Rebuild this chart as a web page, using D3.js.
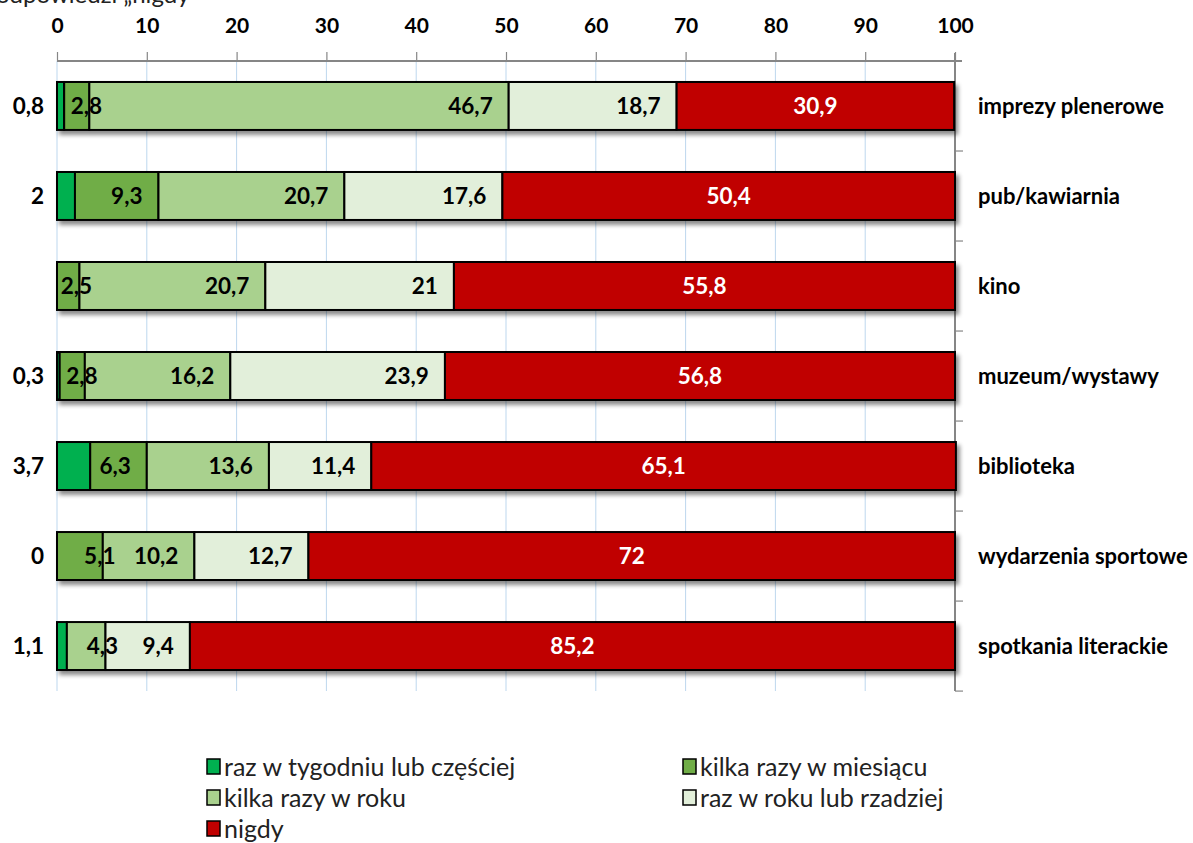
<!DOCTYPE html>
<html>
<head>
<meta charset="utf-8">
<script src="https://cdn.jsdelivr.net/npm/d3@7"></script>
<style>
  html, body { margin: 0; padding: 0; background: #fff; }
  svg { display: block; font-family: Lato, "Open Sans", sans-serif; }
</style>
</head>
<body>
<svg id="chart" width="1193" height="843"></svg>
<script>
// Places visited and how often (% of answers)
const categories = ["imprezy plenerowe", "pub/kawiarnia", "kino", "muzeum/wystawy",
                    "biblioteka", "wydarzenia sportowe", "spotkania literackie"];
const weekly  = [0.8, 2,   null, 0.3,  3.7,  0,    1.1];
const monthly = [2.8, 9.3, 2.5,  2.8,  6.3,  5.1,  null];
const yearly  = [46.7, 20.7, 20.7, 16.2, 13.6, 10.2, 4.3];
const rarely  = [18.7, 17.6, 21,   23.9, 11.4, 12.7, 9.4];
const never   = [30.9, 50.4, 55.8, 56.8, 65.1, 72,   85.2];
const seriesNames = ["raz w tygodniu lub częściej", "kilka razy w miesiącu",
                     "kilka razy w roku", "raz w roku lub rzadziej", "nigdy"];
const xTicks = [0, 10, 20, 30, 40, 50, 60, 70, 80, 90, 100];

const colors = ["#00B050", "#70AD47", "#A9D18E", "#E2EFDA", "#C00000"];
const seriesValues = [weekly, monthly, yearly, rarely, never];

const svg = d3.select("#chart");
const fmt = v => String(v).replace(".", ",");

const x = d3.scaleLinear().domain([0, 100]).range([57, 955]);
const y = d3.scaleBand().domain(categories).range([61, 691]).paddingInner(0.467).paddingOuter(0.233);

// drop shadow for the bars
const defs = svg.append("defs");
const f = defs.append("filter").attr("id", "shadow")
  .attr("x", "-5%").attr("y", "-20%").attr("width", "110%").attr("height", "160%");
f.append("feDropShadow").attr("dx", 3).attr("dy", 4).attr("stdDeviation", 2.2)
  .attr("flood-color", "#000").attr("flood-opacity", 0.45);

// caption line running off the top edge
svg.append("text").attr("x", -4).attr("y", 3)
  .attr("font-size", 24).attr("fill", "#222").text("odpowiedzi „nigdy”");

// vertical gridlines
svg.append("g").selectAll("line").data(xTicks.filter(t => t < 100)).join("line")
  .attr("x1", d => x(d)).attr("x2", d => x(d))
  .attr("y1", 61).attr("y2", 691)
  .attr("stroke", "#BDD7EE").attr("stroke-width", 1);

// top value axis
const xAxis = svg.append("g").attr("transform", "translate(0,61)")
  .call(d3.axisTop(x).tickValues(xTicks).tickSize(9).tickPadding(19).tickFormat(d3.format("d")));
xAxis.select(".domain").attr("stroke", "#868686").attr("stroke-width", 2)
  .attr("d", `M${x(0)},0H962`);
xAxis.selectAll(".tick line").attr("stroke", "#868686").attr("stroke-width", 1.2);
xAxis.selectAll(".tick text").attr("font-size", 21).attr("font-weight", "bold")
  .attr("fill", "#000").attr("font-family", "Lato, sans-serif");

// right category axis
const bounds = d3.range(categories.length + 1).map(i => 61 + i * y.step());
svg.append("line").attr("x1", x(100)).attr("x2", x(100)).attr("y1", 53).attr("y2", 691)
  .attr("stroke", "#868686").attr("stroke-width", 2);
svg.append("g").selectAll("line").data(bounds.slice(1)).join("line")
  .attr("x1", x(100)).attr("x2", x(100) + 8).attr("y1", d => d).attr("y2", d => d)
  .attr("stroke", "#868686").attr("stroke-width", 1.2);

// stacked segments
const rows = categories.map((c, i) => {
  let acc = 0;
  const segs = [];
  seriesValues.forEach((arr, s) => {
    const v = arr[i];
    if (v === null) return;
    segs.push({ cat: c, s, v, x0: acc, x1: acc + v });
    acc += v;
  });
  return segs;
});

const bars = svg.append("g");
rows.forEach(segs => {
  const g = bars.append("g").attr("filter", "url(#shadow)");
  g.selectAll("rect").data(segs.filter(d => d.v > 0)).join("rect")
    .attr("x", d => x(d.x0)).attr("width", d => x(d.x1) - x(d.x0))
    .attr("y", d => y(d.cat)).attr("height", y.bandwidth())
    .attr("fill", d => colors[d.s]).attr("stroke", "#000").attr("stroke-width", 2);
});

// value labels
const labels = svg.append("g").attr("font-weight", "bold").attr("font-size", 22.5);
rows.forEach(segs => {
  segs.forEach(d => {
    const cy = y(d.cat) + y.bandwidth() / 2;
    const w = x(d.x1) - x(d.x0);
    let tx, anchor, fill = "#000";
    if (d.s === 0) { tx = x(0) - 13; anchor = "end"; }
    else if (d.s === 4) { tx = (x(d.x0) + x(d.x1)) / 2; anchor = "middle"; fill = "#fff"; }
    else if (w >= 50) { tx = x(d.x1) - 16; anchor = "end"; }
    else { tx = x(d.x1) - 3; anchor = "middle"; }
    labels.append("text").attr("x", tx).attr("y", cy).attr("dy", "0.36em")
      .attr("text-anchor", anchor).attr("fill", fill).text(fmt(d.v));
  });
});

// category names on the right
svg.append("g").selectAll("text").data(categories).join("text")
  .attr("x", 978).attr("y", d => y(d) + y.bandwidth() / 2).attr("dy", "0.36em")
  .attr("font-size", 22).attr("font-weight", "bold").attr("fill", "#000")
  .text(d => d);

// legend
const legendPos = [[207, 767], [683, 767], [207, 798], [683, 798], [207, 829]];
const lg = svg.append("g");
seriesNames.forEach((n, i) => {
  const [lx, ly] = legendPos[i];
  lg.append("rect").attr("x", lx).attr("y", ly - 8).attr("width", 13).attr("height", 15)
    .attr("fill", colors[i]).attr("stroke", "#000").attr("stroke-width", 1.5);
  lg.append("text").attr("x", lx + 17).attr("y", ly).attr("dy", "0.36em")
    .attr("font-size", 25).attr("fill", "#222").text(n);
});
</script>
</body>
</html>
